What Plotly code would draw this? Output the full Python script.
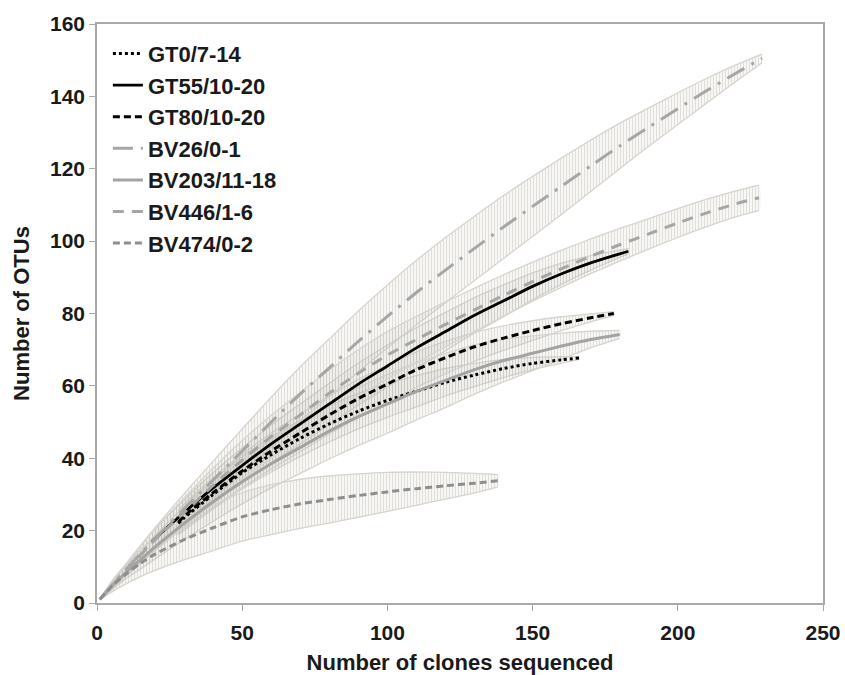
import plotly.graph_objects as go

# ---------------- data ----------------
GT0_x = [28, 30, 40, 50, 60, 70, 80, 90, 100, 110, 120, 130, 140, 150, 160, 166]
GT0_y = [22, 23.5, 30, 36, 41, 45.5, 49.5, 53, 56, 58.5, 61, 63, 64.8, 66.2, 67.2, 67.7]
GT0_ci = [3.2, 3.4, 4, 4.5, 4.8, 5, 5, 4.9, 4.7, 4.3, 3.8, 3.2, 2.5, 1.7, 0.9, 0.4]

GT55_x = [19, 20, 30, 40, 50, 60, 70, 80, 90, 100, 110, 120, 130, 140, 150, 160, 170, 180, 183]
GT55_y = [17, 17.8, 25, 31.8, 38, 44, 49.5, 55, 60.5, 65.5, 70.5, 75, 79.5, 83.5, 87.5, 91, 94, 96.5, 97.2]
GT55_ci = [2.5, 2.6, 3.5, 4.2, 4.8, 5.2, 5.5, 5.7, 5.8, 5.8, 5.6, 5.3, 4.9, 4.4, 3.7, 2.9, 2, 1, 0.7]

GT80_x = [28, 30, 40, 50, 60, 70, 80, 90, 100, 110, 120, 130, 140, 150, 160, 170, 178]
GT80_y = [22.3, 24, 30.5, 36.5, 42, 47, 52, 56.5, 60.5, 64.5, 67.8, 70.8, 73.2, 75.3, 77.2, 78.8, 80]
GT80_ci = [3.2, 3.4, 4.1, 4.6, 5, 5.2, 5.3, 5.3, 5.2, 4.9, 4.5, 4, 3.4, 2.7, 1.9, 1.1, 0.5]

BV26_x = [1, 5, 10, 20, 30, 40, 50, 60, 70, 80, 90, 100, 110, 120, 130, 140, 150, 160, 170, 180, 190, 200, 210, 220, 229]
BV26_y = [1, 4.8, 9.3, 17.8, 26, 34, 42, 50, 57.8, 65, 72.3, 79.2, 85.8, 92, 98, 103.9, 109.6, 115.2, 120.8, 126.3, 131.5, 136.6, 141.6, 146.4, 150.5]
BV26_ci = [0, 0.8, 1.6, 3, 4.2, 5.2, 6.1, 6.9, 7.5, 8, 8.4, 8.7, 8.9, 9, 8.9, 8.7, 8.3, 7.8, 7.1, 6.3, 5.3, 4.4, 3.4, 2.3, 1.2]

BV203_x = [1, 5, 10, 15, 20, 30, 40, 50, 60, 70, 80, 90, 100, 110, 120, 130, 140, 150, 160, 170, 180]
BV203_y = [1, 4.5, 8.5, 12, 15.5, 22, 28, 33.5, 38.5, 43, 47.5, 51.5, 55, 58.5, 61.5, 64.5, 67, 69, 71, 72.8, 74.2]
BV203_ci = [0, 0.9, 1.8, 2.6, 3.3, 4.5, 5.4, 6.1, 6.7, 7.2, 7.7, 8, 8.1, 7.9, 7.5, 6.8, 5.9, 4.8, 3.6, 2.3, 1.1]

BV446_x = [1, 5, 10, 20, 30, 40, 50, 60, 70, 80, 90, 100, 110, 120, 130, 140, 150, 160, 170, 180, 190, 200, 210, 220, 228]
BV446_y = [1, 4.7, 9, 17.5, 25, 32.5, 39.5, 46, 52, 58, 63.5, 68.5, 72.8, 77, 81, 85, 88.8, 92.4, 95.8, 99, 102, 105, 107.8, 110.3, 112]
BV446_ci = [0, 0.8, 1.6, 3, 4, 4.8, 5.4, 5.9, 6.2, 6.4, 6.5, 6.5, 6.4, 6.2, 6, 5.7, 5.4, 5.1, 4.8, 4.5, 4.2, 4, 3.8, 3.6, 3.5]

BV474_x = [1, 5, 10, 15, 20, 30, 40, 50, 60, 70, 80, 90, 100, 110, 120, 130, 138]
BV474_y = [1, 4.5, 8, 11, 13.5, 17.5, 20.8, 23.8, 25.8, 27.4, 28.6, 29.7, 30.7, 31.6, 32.4, 33.1, 33.8]
BV474_ci = [0, 1.5, 2.7, 3.7, 4.5, 5.6, 6.3, 6.7, 6.9, 6.8, 6.5, 6, 5.4, 4.6, 3.7, 2.7, 1.7]

x_ticks = [0, 50, 100, 150, 200, 250]
y_ticks = [0, 20, 40, 60, 80, 100, 120, 140, 160]

series = [
    ("GT0/7-14", GT0_x, GT0_y, GT0_ci, "#000000", "3px,3px", 3),
    ("GT55/10-20", GT55_x, GT55_y, GT55_ci, "#000000", "solid", 2.8),
    ("GT80/10-20", GT80_x, GT80_y, GT80_ci, "#000000", "7px,4px", 3),
    ("BV26/0-1", BV26_x, BV26_y, BV26_ci, "#a6a6a6", "20px,8px,3px,8px", 3),
    ("BV203/11-18", BV203_x, BV203_y, BV203_ci, "#a3a3a3", "solid", 3),
    ("BV446/1-6", BV446_x, BV446_y, BV446_ci, "#a6a6a6", "11px,8px", 3),
    ("BV474/0-2", BV474_x, BV474_y, BV474_ci, "#8e8e8e", "7px,4px", 3),
]

FONT = "Arial, Liberation Sans, sans-serif"
BAND = "#c3bdb6"

fig = go.Figure()
# confidence bands (error-bar hatching) first
for name, xs, ys, ci, col, dash, w in series:
    upper = [v + c for v, c in zip(ys, ci)]
    lower = [v - c for v, c in zip(ys, ci)]
    fig.add_trace(go.Scatter(
        x=list(xs) + list(xs)[::-1],
        y=upper + lower[::-1],
        mode="lines", fill="toself",
        line=dict(color="rgba(0,0,0,0)", width=0, shape="spline", smoothing=0.6),
        fillcolor="rgba(0,0,0,0)",
        fillpattern=dict(shape="|", size=3, solidity=0.5, fgcolor=BAND,
                         bgcolor="rgba(0,0,0,0)"),
        hoverinfo="skip", showlegend=False,
    ))
    # cap rows along the upper and lower limits
    for edge in (upper, lower):
        fig.add_trace(go.Scatter(
            x=xs, y=edge, mode="lines",
            line=dict(color="#d8d4cf", width=1.3, shape="spline", smoothing=0.6),
            hoverinfo="skip", showlegend=False,
        ))

# curves on top
for name, xs, ys, ci, col, dash, w in series:
    fig.add_trace(go.Scatter(
        x=xs, y=ys, mode="lines", name=name,
        line=dict(color=col, width=w, dash=dash, shape="spline", smoothing=0.8),
    ))

axis_common = dict(
    showline=True, linecolor="#a9a9a9", linewidth=1.5, mirror=True,
    ticks="outside", ticklen=6, tickcolor="#a9a9a9", tickwidth=1.2,
    showgrid=False, zeroline=False, automargin=False,
    tickfont=dict(family=FONT, size=21, color="#1a1a1a", weight="bold"),
)

fig.update_layout(
    width=845, height=675,
    margin=dict(l=97, r=22, t=24, b=72),
    paper_bgcolor="white", plot_bgcolor="white",
    font=dict(family=FONT, color="#1a1a1a"),
    xaxis=dict(range=[0, 250], tickvals=x_ticks, ticklabelstandoff=4, **axis_common,
               title=dict(text="Number of clones sequenced", standoff=14,
                          font=dict(family=FONT, size=22, color="#1a1a1a", weight="bold"))),
    yaxis=dict(range=[0, 160], tickvals=y_ticks, **axis_common,
               title=dict(text="Number of OTUs", standoff=14,
                          font=dict(family=FONT, size=22, color="#1a1a1a", weight="bold"))),
    legend=dict(x=0.015, y=0.985, xanchor="left", yanchor="top",
                bgcolor="rgba(0,0,0,0)", tracegroupgap=0,
                font=dict(family=FONT, size=22, color="#1a1a1a", weight="bold")),
)

fig.write_html("out.html")
